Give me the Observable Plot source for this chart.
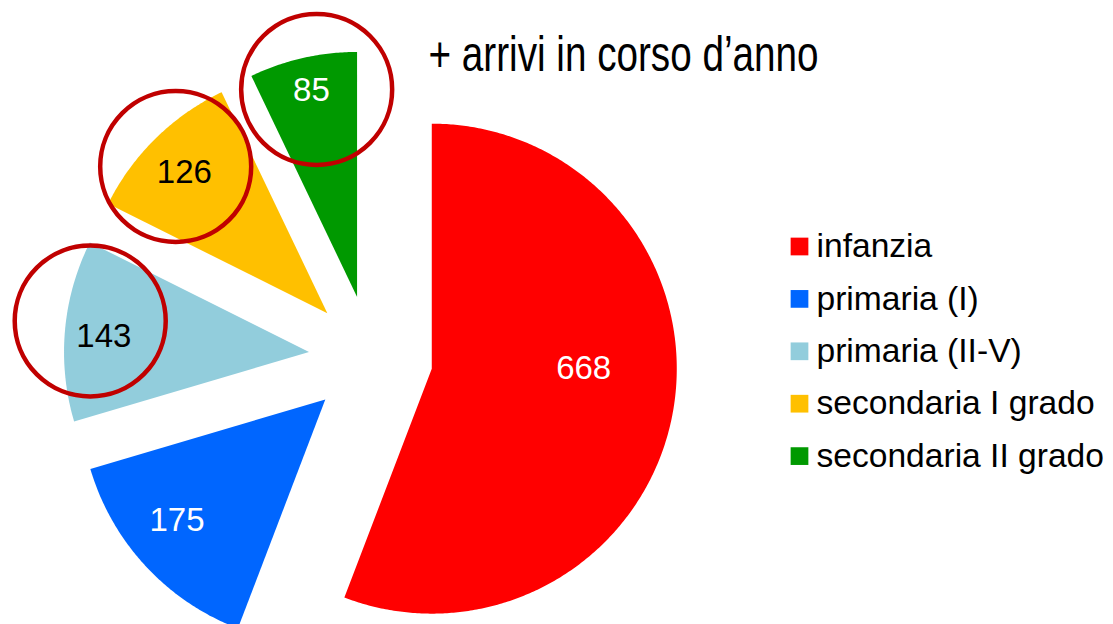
<!DOCTYPE html>
<html><head><meta charset="utf-8">
<script src="https://cdn.jsdelivr.net/npm/d3@7"></script>
<script src="https://cdn.jsdelivr.net/npm/@observablehq/plot@0.6"></script>
<style>body{margin:0;background:#fff}#chart{width:1113px;height:624px;overflow:hidden}</style>
</head><body><div id="chart"></div>
<script>
// ---- data ----
const categories = ["infanzia", "primaria (I)", "primaria (II-V)", "secondaria I grado", "secondaria II grado"];
const values = [668, 175, 143, 126, 85];
const colors = ["#FF0000", "#0066FF", "#92CDDC", "#FFC000", "#009900"];
const labelColors = ["#FFFFFF", "#FFFFFF", "#000000", "#000000", "#FFFFFF"];
const highlighted = [false, false, true, true, true];
const titleText = "+ arrivi in corso d\u2019anno";

// ---- layout ----
const W = 1113, H = 624;
const CX = 370.3, CY = 356.9, R = 245, EXPLODE = 62;
const labelFrac = [0.62, 0.78, 0.84, 0.82, 0.865];
const labelShift = [-10.45, 3.7, -0.6, -0.85, 0.35];
const ringFrac = [0, 0, 0.902, 0.861, 0.863];
const ringShift = [0, 0, 3, -1.45, 1.76];
const FONT = "'Liberation Sans', Arial, Helvetica, sans-serif";

const rad = d => d * Math.PI / 180;
const total = d3.sum(values);
let acc = 0;
const slices = values.map((v, i) => {
  const a0 = acc / total * 360; acc += v; const a1 = acc / total * 360;
  const mid = (a0 + a1) / 2;
  const ax = CX + EXPLODE * Math.sin(rad(mid)), ay = CY - EXPLODE * Math.cos(rad(mid));
  const pts = [{x: ax, y: ay}];
  const n = Math.max(2, Math.ceil((a1 - a0) / 0.5));
  for (let k = 0; k <= n; k++) {
    const a = a0 + (a1 - a0) * k / n;
    pts.push({x: ax + R * Math.sin(rad(a)), y: ay - R * Math.cos(rad(a))});
  }
  const la = mid + labelShift[i], lr = labelFrac[i] * R;
  const ra = mid + ringShift[i], rr = ringFrac[i] * R;
  return {i, value: v, color: colors[i], pts,
    lx: ax + lr * Math.sin(rad(la)), ly: ay - lr * Math.cos(rad(la)),
    rx: ax + rr * Math.sin(rad(ra)), ry: ay - rr * Math.cos(rad(ra)),
    labelColor: labelColors[i], highlighted: highlighted[i]};
});

const legend = categories.map((c, i) => ({name: c, color: colors[i], x: 799, y: 246 + i * 52.4}));

const plot = Plot.plot({
  width: W, height: H, margin: 0,
  x: {domain: [0, W], range: [0, W], axis: null},
  y: {domain: [0, H], range: [0, H], axis: null},
  style: {fontFamily: FONT, background: "white"},
  marks: [
    ...slices.map(s => Plot.line(s.pts, {x: "x", y: "y", fill: s.color, stroke: "none", curve: "linear-closed"})),
    Plot.text(slices, {x: "lx", y: "ly", text: d => String(d.value), fill: "labelColor", fontSize: 33, fontFamily: FONT}),
    Plot.dot(slices.filter(d => d.highlighted), {x: "rx", y: "ry", r: 75.5, stroke: "#C00000", strokeWidth: 4.5, fill: "none"}),
    Plot.dot(legend, {x: "x", y: "y", symbol: "square", r: 10, fill: "color", stroke: "none"}),
    Plot.text(legend, {x: d => d.x + 17, y: "y", text: "name", textAnchor: "start", fontSize: 33.6, fill: "black", fontFamily: FONT}),
    Plot.text([titleText], {x: 428, y: 54, text: d => d, textAnchor: "start", fontSize: 50, fill: "black", fontFamily: FONT})
  ]
});
plot.querySelectorAll("text").forEach(t => {
  if (t.textContent === titleText) {
    t.setAttribute("textLength", 390);
    t.setAttribute("lengthAdjust", "spacingAndGlyphs");
  }
});
document.getElementById("chart").appendChild(plot);
</script>
</body></html>
